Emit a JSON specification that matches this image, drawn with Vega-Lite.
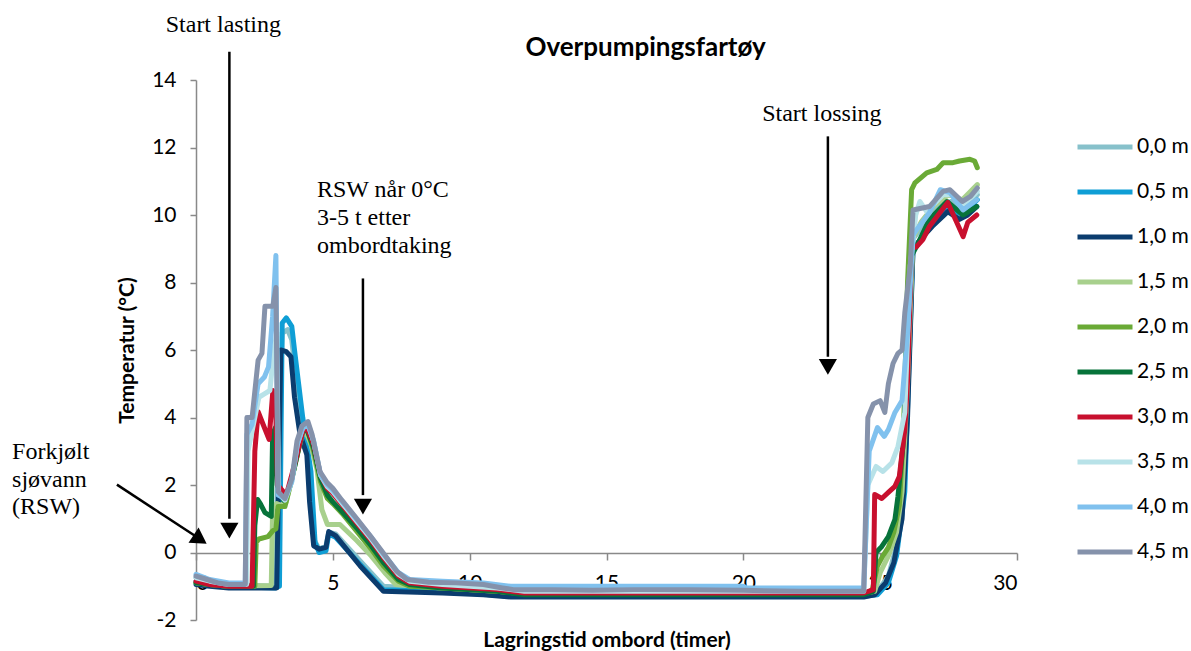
{
  "$schema": "https://vega.github.io/schema/vega-lite/v6.json",
  "width": 821,
  "height": 540,
  "autosize": {"type": "none"},
  "padding": {"left": 196, "top": 80, "right": 174, "bottom": 31},
  "background": "white",
  "config": {"view": {"stroke": null}, "font": "Lato"},
  "title": {"text": "Overpumpingsfartøy", "frame": "group", "font": "Lato", "fontSize": 26, "fontWeight": "bold", "color": "#000000", "anchor": "middle", "dx": 39, "offset": -48},
  "encoding": {
    "x": {"field": "t", "type": "quantitative", "scale": {"domain": [0, 30], "nice": false, "zero": false},
      "axis": {"title": "Lagringstid ombord (timer)", "values": [0, 5, 10, 15, 20, 25, 30], "offset": -67, "grid": false,
        "labelExpr": "'' + datum.value",
        "domainColor": "#898989", "domainWidth": 1.5, "tickColor": "#898989", "tickWidth": 1.5, "tickSize": 7,
        "labelFont": "Lato", "labelFontSize": 21, "labelColor": "#000000", "labelPadding": 12,
        "titleFont": "Lato", "titleFontSize": 21, "titleFontWeight": "bold", "titleColor": "#000000", "titlePadding": 36}},
    "y": {"field": "v", "type": "quantitative", "scale": {"domain": [-2, 14], "nice": false, "zero": false},
      "axis": {"title": "Temperatur (°C)", "values": [-2, 0, 2, 4, 6, 8, 10, 12, 14], "grid": false,
        "labelExpr": "'' + datum.value",
        "domainColor": "#898989", "domainWidth": 1.5, "tickColor": "#898989", "tickWidth": 1.5, "tickSize": 6,
        "labelFont": "Lato", "labelFontSize": 21, "labelColor": "#000000", "labelPadding": 14,
        "titleFont": "Lato", "titleFontSize": 21, "titleFontWeight": "bold", "titleColor": "#000000", "titlePadding": 14}}
  },
  "layer": [
    {
      "data": {"values": [
        {"s":"0,0 m","t":0,"v":-0.75},{"s":"0,0 m","t":0.5,"v":-0.85},{"s":"0,0 m","t":1.2,"v":-0.95},{"s":"0,0 m","t":2.85,"v":-1.0},{"s":"0,0 m","t":3.0,"v":2.5},{"s":"0,0 m","t":3.15,"v":6.5},{"s":"0,0 m","t":3.35,"v":6.6},{"s":"0,0 m","t":3.5,"v":6.3},{"s":"0,0 m","t":3.65,"v":5.2},{"s":"0,0 m","t":3.8,"v":4.0},{"s":"0,0 m","t":4.0,"v":3.2},{"s":"0,0 m","t":4.15,"v":2.5},{"s":"0,0 m","t":4.3,"v":0.4},{"s":"0,0 m","t":4.5,"v":0.1},{"s":"0,0 m","t":4.75,"v":0.2},{"s":"0,0 m","t":4.85,"v":0.6},{"s":"0,0 m","t":5.1,"v":0.55},{"s":"0,0 m","t":6.0,"v":-0.25},{"s":"0,0 m","t":6.85,"v":-1.0},{"s":"0,0 m","t":9,"v":-1.1},{"s":"0,0 m","t":11.5,"v":-1.2},{"s":"0,0 m","t":24.4,"v":-1.2},{"s":"0,0 m","t":24.9,"v":-1.15},{"s":"0,0 m","t":25.3,"v":-0.7},{"s":"0,0 m","t":25.6,"v":0.2},{"s":"0,0 m","t":25.9,"v":2.2},{"s":"0,0 m","t":26.05,"v":6.0},{"s":"0,0 m","t":26.2,"v":9.3},{"s":"0,0 m","t":26.6,"v":9.7},{"s":"0,0 m","t":27.2,"v":10.3},{"s":"0,0 m","t":27.6,"v":10.4},{"s":"0,0 m","t":28.0,"v":10.2},{"s":"0,0 m","t":28.55,"v":10.6},
        {"s":"0,5 m","t":0,"v":-0.85},{"s":"0,5 m","t":0.5,"v":-0.9},{"s":"0,5 m","t":1.2,"v":-1.0},{"s":"0,5 m","t":2.9,"v":-1.05},{"s":"0,5 m","t":3.05,"v":-1.0},{"s":"0,5 m","t":3.15,"v":6.8},{"s":"0,5 m","t":3.3,"v":6.95},{"s":"0,5 m","t":3.5,"v":6.7},{"s":"0,5 m","t":3.6,"v":6.0},{"s":"0,5 m","t":3.75,"v":5.0},{"s":"0,5 m","t":3.9,"v":4.0},{"s":"0,5 m","t":4.05,"v":3.2},{"s":"0,5 m","t":4.2,"v":2.4},{"s":"0,5 m","t":4.35,"v":0.3},{"s":"0,5 m","t":4.5,"v":0.0},{"s":"0,5 m","t":4.75,"v":0.05},{"s":"0,5 m","t":4.85,"v":0.55},{"s":"0,5 m","t":5.1,"v":0.45},{"s":"0,5 m","t":6.0,"v":-0.35},{"s":"0,5 m","t":6.85,"v":-1.1},{"s":"0,5 m","t":9,"v":-1.15},{"s":"0,5 m","t":11.5,"v":-1.3},{"s":"0,5 m","t":24.4,"v":-1.3},{"s":"0,5 m","t":24.9,"v":-1.25},{"s":"0,5 m","t":25.3,"v":-0.9},{"s":"0,5 m","t":25.6,"v":-0.1},{"s":"0,5 m","t":25.9,"v":1.8},{"s":"0,5 m","t":26.05,"v":5.5},{"s":"0,5 m","t":26.2,"v":9.0},{"s":"0,5 m","t":26.6,"v":9.4},{"s":"0,5 m","t":27.2,"v":10.0},{"s":"0,5 m","t":27.6,"v":10.2},{"s":"0,5 m","t":28.0,"v":10.0},{"s":"0,5 m","t":28.55,"v":10.45},
        {"s":"1,0 m","t":0,"v":-0.95},{"s":"1,0 m","t":0.5,"v":-1.0},{"s":"1,0 m","t":1.2,"v":-1.05},{"s":"1,0 m","t":2.95,"v":-1.05},{"s":"1,0 m","t":3.1,"v":6.0},{"s":"1,0 m","t":3.3,"v":5.95},{"s":"1,0 m","t":3.47,"v":5.8},{"s":"1,0 m","t":3.6,"v":4.6},{"s":"1,0 m","t":3.8,"v":3.5},{"s":"1,0 m","t":4.05,"v":2.9},{"s":"1,0 m","t":4.15,"v":1.5},{"s":"1,0 m","t":4.3,"v":0.2},{"s":"1,0 m","t":4.5,"v":0.1},{"s":"1,0 m","t":4.75,"v":0.15},{"s":"1,0 m","t":4.85,"v":0.62},{"s":"1,0 m","t":5.1,"v":0.5},{"s":"1,0 m","t":6.0,"v":-0.4},{"s":"1,0 m","t":6.85,"v":-1.15},{"s":"1,0 m","t":9,"v":-1.2},{"s":"1,0 m","t":10.5,"v":-1.25},{"s":"1,0 m","t":11.5,"v":-1.32},{"s":"1,0 m","t":24.4,"v":-1.32},{"s":"1,0 m","t":24.8,"v":-1.25},{"s":"1,0 m","t":25.2,"v":-0.9},{"s":"1,0 m","t":25.5,"v":-0.3},{"s":"1,0 m","t":25.8,"v":1.0},{"s":"1,0 m","t":26.0,"v":4.0},{"s":"1,0 m","t":26.2,"v":9.0},{"s":"1,0 m","t":26.5,"v":9.3},{"s":"1,0 m","t":26.9,"v":9.66},{"s":"1,0 m","t":27.47,"v":10.1},{"s":"1,0 m","t":27.9,"v":9.87},{"s":"1,0 m","t":28.2,"v":10.0},{"s":"1,0 m","t":28.53,"v":10.25},
        {"s":"1,5 m","t":0,"v":-0.9},{"s":"1,5 m","t":0.5,"v":-0.95},{"s":"1,5 m","t":1.2,"v":-1.0},{"s":"1,5 m","t":2.75,"v":-0.98},{"s":"1,5 m","t":2.8,"v":1.3},{"s":"1,5 m","t":2.95,"v":1.45},{"s":"1,5 m","t":3.1,"v":1.4},{"s":"1,5 m","t":3.3,"v":1.5},{"s":"1,5 m","t":3.45,"v":2.0},{"s":"1,5 m","t":3.7,"v":2.9},{"s":"1,5 m","t":3.9,"v":3.55},{"s":"1,5 m","t":4.0,"v":3.6},{"s":"1,5 m","t":4.2,"v":3.2},{"s":"1,5 m","t":4.42,"v":2.46},{"s":"1,5 m","t":4.6,"v":1.27},{"s":"1,5 m","t":4.8,"v":0.83},{"s":"1,5 m","t":5.26,"v":0.83},{"s":"1,5 m","t":5.88,"v":0.35},{"s":"1,5 m","t":6.4,"v":-0.1},{"s":"1,5 m","t":6.9,"v":-0.6},{"s":"1,5 m","t":7.3,"v":-0.95},{"s":"1,5 m","t":8,"v":-1.0},{"s":"1,5 m","t":11,"v":-1.15},{"s":"1,5 m","t":12,"v":-1.22},{"s":"1,5 m","t":24.4,"v":-1.22},{"s":"1,5 m","t":24.8,"v":-1.15},{"s":"1,5 m","t":25.0,"v":-0.6},{"s":"1,5 m","t":25.3,"v":-0.1},{"s":"1,5 m","t":25.6,"v":0.6},{"s":"1,5 m","t":25.8,"v":1.8},{"s":"1,5 m","t":26.0,"v":5.0},{"s":"1,5 m","t":26.2,"v":9.3},{"s":"1,5 m","t":26.5,"v":9.8},{"s":"1,5 m","t":27.0,"v":10.3},{"s":"1,5 m","t":27.5,"v":10.6},{"s":"1,5 m","t":28.0,"v":10.45},{"s":"1,5 m","t":28.3,"v":10.7},{"s":"1,5 m","t":28.55,"v":10.9},
        {"s":"2,0 m","t":0,"v":-0.9},{"s":"2,0 m","t":0.5,"v":-0.95},{"s":"2,0 m","t":1.2,"v":-1.0},{"s":"2,0 m","t":2.15,"v":-1.0},{"s":"2,0 m","t":2.2,"v":0.3},{"s":"2,0 m","t":2.3,"v":0.4},{"s":"2,0 m","t":2.63,"v":0.47},{"s":"2,0 m","t":2.81,"v":0.65},{"s":"2,0 m","t":2.92,"v":0.7},{"s":"2,0 m","t":3.0,"v":1.36},{"s":"2,0 m","t":3.25,"v":1.36},{"s":"2,0 m","t":3.43,"v":1.96},{"s":"2,0 m","t":3.69,"v":2.84},{"s":"2,0 m","t":3.87,"v":3.58},{"s":"2,0 m","t":3.97,"v":3.7},{"s":"2,0 m","t":4.1,"v":3.55},{"s":"2,0 m","t":4.3,"v":3.0},{"s":"2,0 m","t":4.55,"v":2.1},{"s":"2,0 m","t":4.8,"v":1.6},{"s":"2,0 m","t":5.0,"v":1.45},{"s":"2,0 m","t":5.35,"v":1.15},{"s":"2,0 m","t":5.9,"v":0.6},{"s":"2,0 m","t":6.4,"v":0.1},{"s":"2,0 m","t":6.85,"v":-0.4},{"s":"2,0 m","t":7.4,"v":-0.85},{"s":"2,0 m","t":7.8,"v":-1.0},{"s":"2,0 m","t":9,"v":-1.05},{"s":"2,0 m","t":11,"v":-1.15},{"s":"2,0 m","t":12,"v":-1.22},{"s":"2,0 m","t":24.4,"v":-1.22},{"s":"2,0 m","t":24.7,"v":-1.15},{"s":"2,0 m","t":24.9,"v":-0.4},{"s":"2,0 m","t":25.1,"v":-0.1},{"s":"2,0 m","t":25.3,"v":0.15},{"s":"2,0 m","t":25.5,"v":0.6},{"s":"2,0 m","t":25.7,"v":1.4},{"s":"2,0 m","t":25.85,"v":3.5},{"s":"2,0 m","t":26.0,"v":8.0},{"s":"2,0 m","t":26.15,"v":10.75},{"s":"2,0 m","t":26.27,"v":10.95},{"s":"2,0 m","t":26.7,"v":11.25},{"s":"2,0 m","t":27.07,"v":11.35},{"s":"2,0 m","t":27.3,"v":11.55},{"s":"2,0 m","t":27.66,"v":11.55},{"s":"2,0 m","t":27.9,"v":11.6},{"s":"2,0 m","t":28.28,"v":11.65},{"s":"2,0 m","t":28.45,"v":11.6},{"s":"2,0 m","t":28.55,"v":11.4},
        {"s":"2,5 m","t":0,"v":-0.9},{"s":"2,5 m","t":0.5,"v":-0.95},{"s":"2,5 m","t":1.2,"v":-1.0},{"s":"2,5 m","t":2.1,"v":-1.0},{"s":"2,5 m","t":2.15,"v":0.8},{"s":"2,5 m","t":2.25,"v":1.57},{"s":"2,5 m","t":2.35,"v":1.45},{"s":"2,5 m","t":2.52,"v":1.18},{"s":"2,5 m","t":2.75,"v":1.07},{"s":"2,5 m","t":2.8,"v":3.5},{"s":"2,5 m","t":2.9,"v":3.7},{"s":"2,5 m","t":2.97,"v":2.0},{"s":"2,5 m","t":3.2,"v":1.55},{"s":"2,5 m","t":3.45,"v":2.0},{"s":"2,5 m","t":3.7,"v":2.9},{"s":"2,5 m","t":3.9,"v":3.6},{"s":"2,5 m","t":4.05,"v":3.65},{"s":"2,5 m","t":4.3,"v":3.1},{"s":"2,5 m","t":4.55,"v":2.2},{"s":"2,5 m","t":4.8,"v":1.7},{"s":"2,5 m","t":5.0,"v":1.5},{"s":"2,5 m","t":5.35,"v":1.2},{"s":"2,5 m","t":5.9,"v":0.7},{"s":"2,5 m","t":6.4,"v":0.2},{"s":"2,5 m","t":6.85,"v":-0.3},{"s":"2,5 m","t":7.4,"v":-0.8},{"s":"2,5 m","t":7.8,"v":-0.95},{"s":"2,5 m","t":9,"v":-1.05},{"s":"2,5 m","t":11,"v":-1.15},{"s":"2,5 m","t":12,"v":-1.25},{"s":"2,5 m","t":24.4,"v":-1.25},{"s":"2,5 m","t":24.75,"v":-1.15},{"s":"2,5 m","t":24.85,"v":0.0},{"s":"2,5 m","t":25.06,"v":0.18},{"s":"2,5 m","t":25.3,"v":0.47},{"s":"2,5 m","t":25.54,"v":0.98},{"s":"2,5 m","t":25.65,"v":1.66},{"s":"2,5 m","t":25.83,"v":3.14},{"s":"2,5 m","t":26.0,"v":6.0},{"s":"2,5 m","t":26.15,"v":8.8},{"s":"2,5 m","t":26.35,"v":9.1},{"s":"2,5 m","t":26.8,"v":9.87},{"s":"2,5 m","t":27.44,"v":10.4},{"s":"2,5 m","t":28.03,"v":10.0},{"s":"2,5 m","t":28.53,"v":10.25},
        {"s":"3,0 m","t":0,"v":-0.85},{"s":"3,0 m","t":0.5,"v":-0.95},{"s":"3,0 m","t":1.2,"v":-1.0},{"s":"3,0 m","t":2.05,"v":-1.0},{"s":"3,0 m","t":2.15,"v":3.0},{"s":"3,0 m","t":2.27,"v":4.17},{"s":"3,0 m","t":2.45,"v":3.8},{"s":"3,0 m","t":2.67,"v":3.35},{"s":"3,0 m","t":2.81,"v":4.8},{"s":"3,0 m","t":2.9,"v":4.6},{"s":"3,0 m","t":2.98,"v":2.0},{"s":"3,0 m","t":3.3,"v":1.7},{"s":"3,0 m","t":3.6,"v":2.6},{"s":"3,0 m","t":3.9,"v":3.6},{"s":"3,0 m","t":4.05,"v":3.7},{"s":"3,0 m","t":4.3,"v":3.2},{"s":"3,0 m","t":4.55,"v":2.3},{"s":"3,0 m","t":4.8,"v":1.9},{"s":"3,0 m","t":5.0,"v":1.75},{"s":"3,0 m","t":5.35,"v":1.4},{"s":"3,0 m","t":5.9,"v":0.85},{"s":"3,0 m","t":6.4,"v":0.35},{"s":"3,0 m","t":6.85,"v":-0.15},{"s":"3,0 m","t":7.4,"v":-0.7},{"s":"3,0 m","t":7.8,"v":-0.9},{"s":"3,0 m","t":9,"v":-1.0},{"s":"3,0 m","t":11,"v":-1.1},{"s":"3,0 m","t":12,"v":-1.2},{"s":"3,0 m","t":24.4,"v":-1.2},{"s":"3,0 m","t":24.75,"v":-1.1},{"s":"3,0 m","t":24.8,"v":1.72},{"s":"3,0 m","t":25.06,"v":1.6},{"s":"3,0 m","t":25.3,"v":1.78},{"s":"3,0 m","t":25.54,"v":1.96},{"s":"3,0 m","t":25.7,"v":2.25},{"s":"3,0 m","t":25.9,"v":3.64},{"s":"3,0 m","t":26.0,"v":5.1},{"s":"3,0 m","t":26.15,"v":9.0},{"s":"3,0 m","t":26.34,"v":9.07},{"s":"3,0 m","t":26.56,"v":9.27},{"s":"3,0 m","t":26.8,"v":9.66},{"s":"3,0 m","t":27.18,"v":10.07},{"s":"3,0 m","t":27.47,"v":10.37},{"s":"3,0 m","t":27.8,"v":9.78},{"s":"3,0 m","t":28.03,"v":9.36},{"s":"3,0 m","t":28.2,"v":9.78},{"s":"3,0 m","t":28.53,"v":10.0},
        {"s":"3,5 m","t":0,"v":-0.75},{"s":"3,5 m","t":0.5,"v":-0.85},{"s":"3,5 m","t":1.2,"v":-0.95},{"s":"3,5 m","t":1.85,"v":-0.95},{"s":"3,5 m","t":1.9,"v":3.0},{"s":"3,5 m","t":2.1,"v":3.8},{"s":"3,5 m","t":2.3,"v":4.6},{"s":"3,5 m","t":2.5,"v":4.7},{"s":"3,5 m","t":2.7,"v":4.8},{"s":"3,5 m","t":2.85,"v":6.0},{"s":"3,5 m","t":2.95,"v":6.5},{"s":"3,5 m","t":3.02,"v":1.75},{"s":"3,5 m","t":3.25,"v":1.55},{"s":"3,5 m","t":3.5,"v":2.1},{"s":"3,5 m","t":3.7,"v":3.2},{"s":"3,5 m","t":3.9,"v":3.7},{"s":"3,5 m","t":4.1,"v":3.8},{"s":"3,5 m","t":4.3,"v":3.3},{"s":"3,5 m","t":4.55,"v":2.3},{"s":"3,5 m","t":4.8,"v":1.95},{"s":"3,5 m","t":5.0,"v":1.8},{"s":"3,5 m","t":5.35,"v":1.45},{"s":"3,5 m","t":5.9,"v":0.9},{"s":"3,5 m","t":6.4,"v":0.4},{"s":"3,5 m","t":6.85,"v":-0.1},{"s":"3,5 m","t":7.4,"v":-0.65},{"s":"3,5 m","t":7.8,"v":-0.85},{"s":"3,5 m","t":9,"v":-0.95},{"s":"3,5 m","t":11,"v":-1.05},{"s":"3,5 m","t":12,"v":-1.15},{"s":"3,5 m","t":24.4,"v":-1.15},{"s":"3,5 m","t":24.55,"v":2.0},{"s":"3,5 m","t":24.85,"v":2.55},{"s":"3,5 m","t":25.1,"v":2.4},{"s":"3,5 m","t":25.43,"v":2.66},{"s":"3,5 m","t":25.65,"v":3.14},{"s":"3,5 m","t":25.9,"v":4.15},{"s":"3,5 m","t":26.1,"v":8.5},{"s":"3,5 m","t":26.3,"v":10.0},{"s":"3,5 m","t":26.45,"v":10.4},{"s":"3,5 m","t":26.7,"v":10.1},{"s":"3,5 m","t":27.3,"v":10.6},{"s":"3,5 m","t":27.6,"v":10.6},{"s":"3,5 m","t":28.0,"v":10.3},{"s":"3,5 m","t":28.3,"v":10.5},{"s":"3,5 m","t":28.55,"v":10.7},
        {"s":"4,0 m","t":0,"v":-0.65},{"s":"4,0 m","t":0.5,"v":-0.8},{"s":"4,0 m","t":1.2,"v":-0.9},{"s":"4,0 m","t":1.8,"v":-0.9},{"s":"4,0 m","t":1.86,"v":3.5},{"s":"4,0 m","t":2.05,"v":3.8},{"s":"4,0 m","t":2.27,"v":5.0},{"s":"4,0 m","t":2.5,"v":5.2},{"s":"4,0 m","t":2.65,"v":5.5},{"s":"4,0 m","t":2.8,"v":7.0},{"s":"4,0 m","t":2.92,"v":8.8},{"s":"4,0 m","t":3.0,"v":1.7},{"s":"4,0 m","t":3.25,"v":1.6},{"s":"4,0 m","t":3.5,"v":2.1},{"s":"4,0 m","t":3.7,"v":3.2},{"s":"4,0 m","t":3.9,"v":3.7},{"s":"4,0 m","t":4.1,"v":3.75},{"s":"4,0 m","t":4.3,"v":3.3},{"s":"4,0 m","t":4.55,"v":2.3},{"s":"4,0 m","t":4.8,"v":2.0},{"s":"4,0 m","t":5.0,"v":1.85},{"s":"4,0 m","t":5.35,"v":1.5},{"s":"4,0 m","t":5.9,"v":0.95},{"s":"4,0 m","t":6.4,"v":0.45},{"s":"4,0 m","t":6.85,"v":-0.05},{"s":"4,0 m","t":7.4,"v":-0.6},{"s":"4,0 m","t":7.8,"v":-0.8},{"s":"4,0 m","t":9,"v":-0.85},{"s":"4,0 m","t":10.5,"v":-0.9},{"s":"4,0 m","t":11.5,"v":-1.0},{"s":"4,0 m","t":20,"v":-1.0},{"s":"4,0 m","t":20.1,"v":-1.05},{"s":"4,0 m","t":24.4,"v":-1.05},{"s":"4,0 m","t":24.6,"v":3.0},{"s":"4,0 m","t":24.9,"v":3.7},{"s":"4,0 m","t":25.15,"v":3.44},{"s":"4,0 m","t":25.3,"v":3.64},{"s":"4,0 m","t":25.54,"v":4.15},{"s":"4,0 m","t":25.8,"v":4.5},{"s":"4,0 m","t":26.0,"v":6.5},{"s":"4,0 m","t":26.2,"v":9.4},{"s":"4,0 m","t":26.34,"v":9.57},{"s":"4,0 m","t":26.8,"v":10.07},{"s":"4,0 m","t":27.2,"v":10.75},{"s":"4,0 m","t":27.55,"v":10.66},{"s":"4,0 m","t":28.03,"v":10.15},{"s":"4,0 m","t":28.53,"v":10.45},
        {"s":"4,5 m","t":0,"v":-0.7},{"s":"4,5 m","t":0.4,"v":-0.8},{"s":"4,5 m","t":0.8,"v":-0.9},{"s":"4,5 m","t":1.2,"v":-0.95},{"s":"4,5 m","t":1.8,"v":-0.95},{"s":"4,5 m","t":1.86,"v":4.0},{"s":"4,5 m","t":2.05,"v":4.0},{"s":"4,5 m","t":2.27,"v":5.7},{"s":"4,5 m","t":2.41,"v":5.9},{"s":"4,5 m","t":2.52,"v":7.3},{"s":"4,5 m","t":2.81,"v":7.3},{"s":"4,5 m","t":2.92,"v":7.85},{"s":"4,5 m","t":3.0,"v":1.8},{"s":"4,5 m","t":3.25,"v":1.6},{"s":"4,5 m","t":3.51,"v":2.2},{"s":"4,5 m","t":3.69,"v":3.3},{"s":"4,5 m","t":3.87,"v":3.75},{"s":"4,5 m","t":4.09,"v":3.88},{"s":"4,5 m","t":4.24,"v":3.5},{"s":"4,5 m","t":4.53,"v":2.4},{"s":"4,5 m","t":4.79,"v":2.07},{"s":"4,5 m","t":5.0,"v":1.9},{"s":"4,5 m","t":5.33,"v":1.55},{"s":"4,5 m","t":5.88,"v":1.0},{"s":"4,5 m","t":6.36,"v":0.5},{"s":"4,5 m","t":6.83,"v":0.0},{"s":"4,5 m","t":7.34,"v":-0.56},{"s":"4,5 m","t":7.71,"v":-0.8},{"s":"4,5 m","t":8.5,"v":-0.88},{"s":"4,5 m","t":9.5,"v":-0.9},{"s":"4,5 m","t":10.5,"v":-0.95},{"s":"4,5 m","t":11.2,"v":-1.05},{"s":"4,5 m","t":11.6,"v":-1.1},{"s":"4,5 m","t":13,"v":-1.1},{"s":"4,5 m","t":14.5,"v":-1.12},{"s":"4,5 m","t":16,"v":-1.1},{"s":"4,5 m","t":18,"v":-1.1},{"s":"4,5 m","t":20,"v":-1.12},{"s":"4,5 m","t":22,"v":-1.15},{"s":"4,5 m","t":24.4,"v":-1.15},{"s":"4,5 m","t":24.55,"v":4.0},{"s":"4,5 m","t":24.75,"v":4.4},{"s":"4,5 m","t":25.0,"v":4.5},{"s":"4,5 m","t":25.17,"v":4.15},{"s":"4,5 m","t":25.3,"v":5.0},{"s":"4,5 m","t":25.47,"v":5.6},{"s":"4,5 m","t":25.65,"v":5.9},{"s":"4,5 m","t":25.8,"v":6.0},{"s":"4,5 m","t":25.9,"v":7.1},{"s":"4,5 m","t":26.1,"v":8.5},{"s":"4,5 m","t":26.2,"v":10.15},{"s":"4,5 m","t":26.8,"v":10.25},{"s":"4,5 m","t":27.3,"v":10.7},{"s":"4,5 m","t":27.55,"v":10.75},{"s":"4,5 m","t":28.0,"v":10.4},{"s":"4,5 m","t":28.3,"v":10.55},{"s":"4,5 m","t":28.55,"v":10.8}
      ]},
      "mark": {"type": "line", "strokeWidth": 5, "strokeCap": "round", "strokeJoin": "round"},
      "encoding": {
        "color": {"field": "s", "type": "nominal",
          "scale": {"domain": ["0,0 m","0,5 m","1,0 m","1,5 m","2,0 m","2,5 m","3,0 m","3,5 m","4,0 m","4,5 m"],
            "range": ["#87C1CB","#0F9ED5","#0B3C6E","#A8D08D","#6AAA36","#07733A","#C8102E","#B8E2E8","#80C1EE","#8592AB"]},
          "legend": {"title": null, "orient": "none", "legendX": 879, "legendY": 37, "padding": 0,
            "symbolType": "stroke", "symbolSize": 3025, "symbolStrokeWidth": 5, "rowPadding": 5,
            "labelFont": "Lato", "labelFontSize": 21, "labelColor": "#000000", "labelOffset": 2}},
        "order": {"field": "t", "type": "quantitative"}
      }
    },
    {
      "data": {"values": [
        {"t": 1.22, "v": 14.84, "t2": 1.22, "v2": 1.0},
        {"t": 6.1, "v": 8.12, "t2": 6.1, "v2": 1.7},
        {"t": 23.09, "v": 12.33, "t2": 23.09, "v2": 5.8},
        {"t": -2.89, "v": 2.01, "t2": 0.1, "v2": 0.42}
      ]},
      "mark": {"type": "rule", "color": "#000000", "strokeWidth": 2.5},
      "encoding": {"x2": {"field": "t2"}, "y2": {"field": "v2"}}
    },
    {
      "data": {"values": [
        {"t": 1.22, "v": 0.65},
        {"t": 6.1, "v": 1.36},
        {"t": 23.09, "v": 5.5}
      ]},
      "mark": {"type": "point", "shape": "triangle-down", "size": 330, "filled": true, "color": "#000000", "opacity": 1},
      "encoding": {}
    },
    {
      "data": {"values": [{"t": 0.15, "v": 0.385}]},
      "mark": {"type": "point", "shape": "triangle-right", "angle": 33.7, "size": 330, "filled": true, "color": "#000000", "opacity": 1},
      "encoding": {}
    },
    {
      "data": {"values": [
        {"t": 1.0, "v": 15.64, "label": "Start lasting"},
        {"t": 22.87, "v": 13.0, "label": "Start lossing"}
      ]},
      "mark": {"type": "text", "font": "Liberation Serif", "fontSize": 24, "color": "#000000", "align": "center", "baseline": "middle"},
      "encoding": {"text": {"field": "label"}}
    },
    {
      "data": {"values": [
        {"t": 4.42, "v": 10.73, "label": "RSW når 0°C"},
        {"t": 4.42, "v": 9.9, "label": "3-5 t etter"},
        {"t": 4.42, "v": 9.07, "label": "ombordtaking"},
        {"t": -6.72, "v": 2.99, "label": "Forkjølt"},
        {"t": -6.72, "v": 2.16, "label": "sjøvann"},
        {"t": -6.72, "v": 1.36, "label": "(RSW)"}
      ]},
      "mark": {"type": "text", "font": "Liberation Serif", "fontSize": 24, "color": "#000000", "align": "left", "baseline": "middle"},
      "encoding": {"text": {"field": "label"}}
    }
  ]
}
